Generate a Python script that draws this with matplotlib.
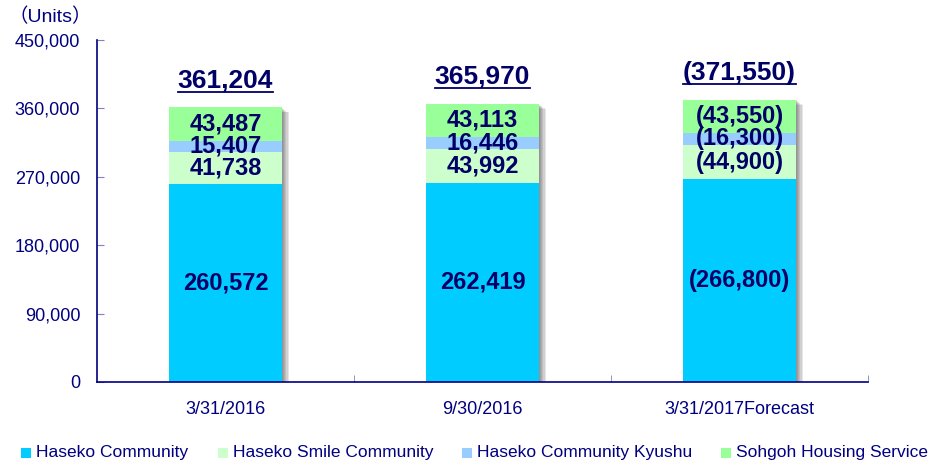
import matplotlib
matplotlib.use("Agg")
import matplotlib.pyplot as plt
import matplotlib.patheffects as pe
from matplotlib.patches import Rectangle
from matplotlib.lines import Line2D
import numpy as np

plt.rcParams['font.family'] = ['Liberation Sans', 'Noto Sans CJK JP', 'DejaVu Sans']

categories = ["3/31/2016", "9/30/2016", "3/31/2017Forecast"]
forecast = [False, False, True]
series_names = ["Haseko Community", "Haseko Smile Community",
                "Haseko Community Kyushu", "Sohgoh Housing Service"]
haseko_community = [260572, 262419, 266800]
haseko_smile = [41738, 43992, 44900]
haseko_kyushu = [15407, 16446, 16300]
sohgoh_housing = [43487, 43113, 43550]
yticks = [0, 90000, 180000, 270000, 360000, 450000]

colors = ["#00CCFF", "#CCFFCC", "#99CCFF", "#99FF99"]
navy = "#000066"
axis_col = "#000080"

series = [haseko_community, haseko_smile, haseko_kyushu, sohgoh_housing]
totals = np.sum(np.array(series), axis=0)

fig = plt.figure(figsize=(9.30, 4.66), dpi=100)
ax = fig.add_axes([97/930, 1-382/466, (868-97)/930, (382-40)/466])

x = np.arange(len(categories))
width = 0.44

# soft shadow bar
shadow_fx = [pe.SimplePatchShadow(offset=(0.8*k, -0.6*k), shadow_rgbFace="#505050", alpha=0.14)
             for k in range(6, 0, -1)] + [pe.Normal()]
ax.bar(x, totals, width, color="white", zorder=1, path_effects=shadow_fx)

def fmt(v, fc):
    s = f"{v:,}"
    return f"({s})" if fc else s

bottom = np.zeros(len(categories))
for vals, col in zip(series, colors):
    vals = np.array(vals)
    ax.bar(x, vals, width, bottom=bottom, color=col, zorder=2)
    for i, v in enumerate(vals):
        ax.text(x[i], bottom[i] + v/2, fmt(int(v), forecast[i]), ha="center", va="center",
                fontsize=17, fontweight="bold", color=navy, zorder=3)
    bottom += vals

total_texts = []
for i, t in enumerate(totals):
    tt = ax.text(x[i], t + 35000, fmt(int(t), forecast[i]), ha="center", va="center",
                 fontsize=19, fontweight="bold", color=navy, zorder=3)
    total_texts.append(tt)

ax.set_xlim(-0.5, len(categories) - 0.5)
ax.set_ylim(0, 450000)
ax.set_yticks(yticks)
ax.set_yticklabels([f"{v:,}" for v in yticks], fontsize=13, color=axis_col)
ax.set_xticks(x)
ax.set_xticklabels(categories, fontsize=13, color=axis_col)
ax.tick_params(axis="x", length=0, pad=14)
ax.set_xticks(np.arange(len(categories)) + 0.5, minor=True)
ax.tick_params(axis="x", which="minor", direction="in", length=5, color="#8080C0")
ax.tick_params(axis="y", direction="in", length=5, color="#8080C0", pad=12)
for s in ["top", "right"]:
    ax.spines[s].set_visible(False)
ax.spines["left"].set_color(axis_col)
ax.spines["bottom"].set_color(axis_col)
ax.spines["left"].set_linewidth(1.2)
ax.spines["bottom"].set_linewidth(1.2)

fig.text(8/930, 1-17/466, "（Units）", fontsize=14, color=axis_col, ha="left", va="center")

# legend (manual placement)
legend_sq_x = [21, 218, 462, 721]
for name, col, sx in zip(series_names, colors, legend_sq_x):
    fig.add_artist(Rectangle((sx/930, 1-458/466), 10/930, 10/466, transform=fig.transFigure,
                             facecolor=col, edgecolor="none"))
    fig.text((sx + 15)/930, 1-453/466, name, fontsize=12.5, color=axis_col,
             ha="left", va="center")

# underline totals
fig.canvas.draw()
r = fig.canvas.get_renderer()
for tt in total_texts:
    bb = tt.get_window_extent(renderer=r)
    y0 = bb.y0 + 1
    line = Line2D([bb.x0/930, bb.x1/930], [y0/466, y0/466], transform=fig.transFigure,
                  color=navy, linewidth=1.3)
    fig.add_artist(line)

fig.savefig("out.png", dpi=100)
